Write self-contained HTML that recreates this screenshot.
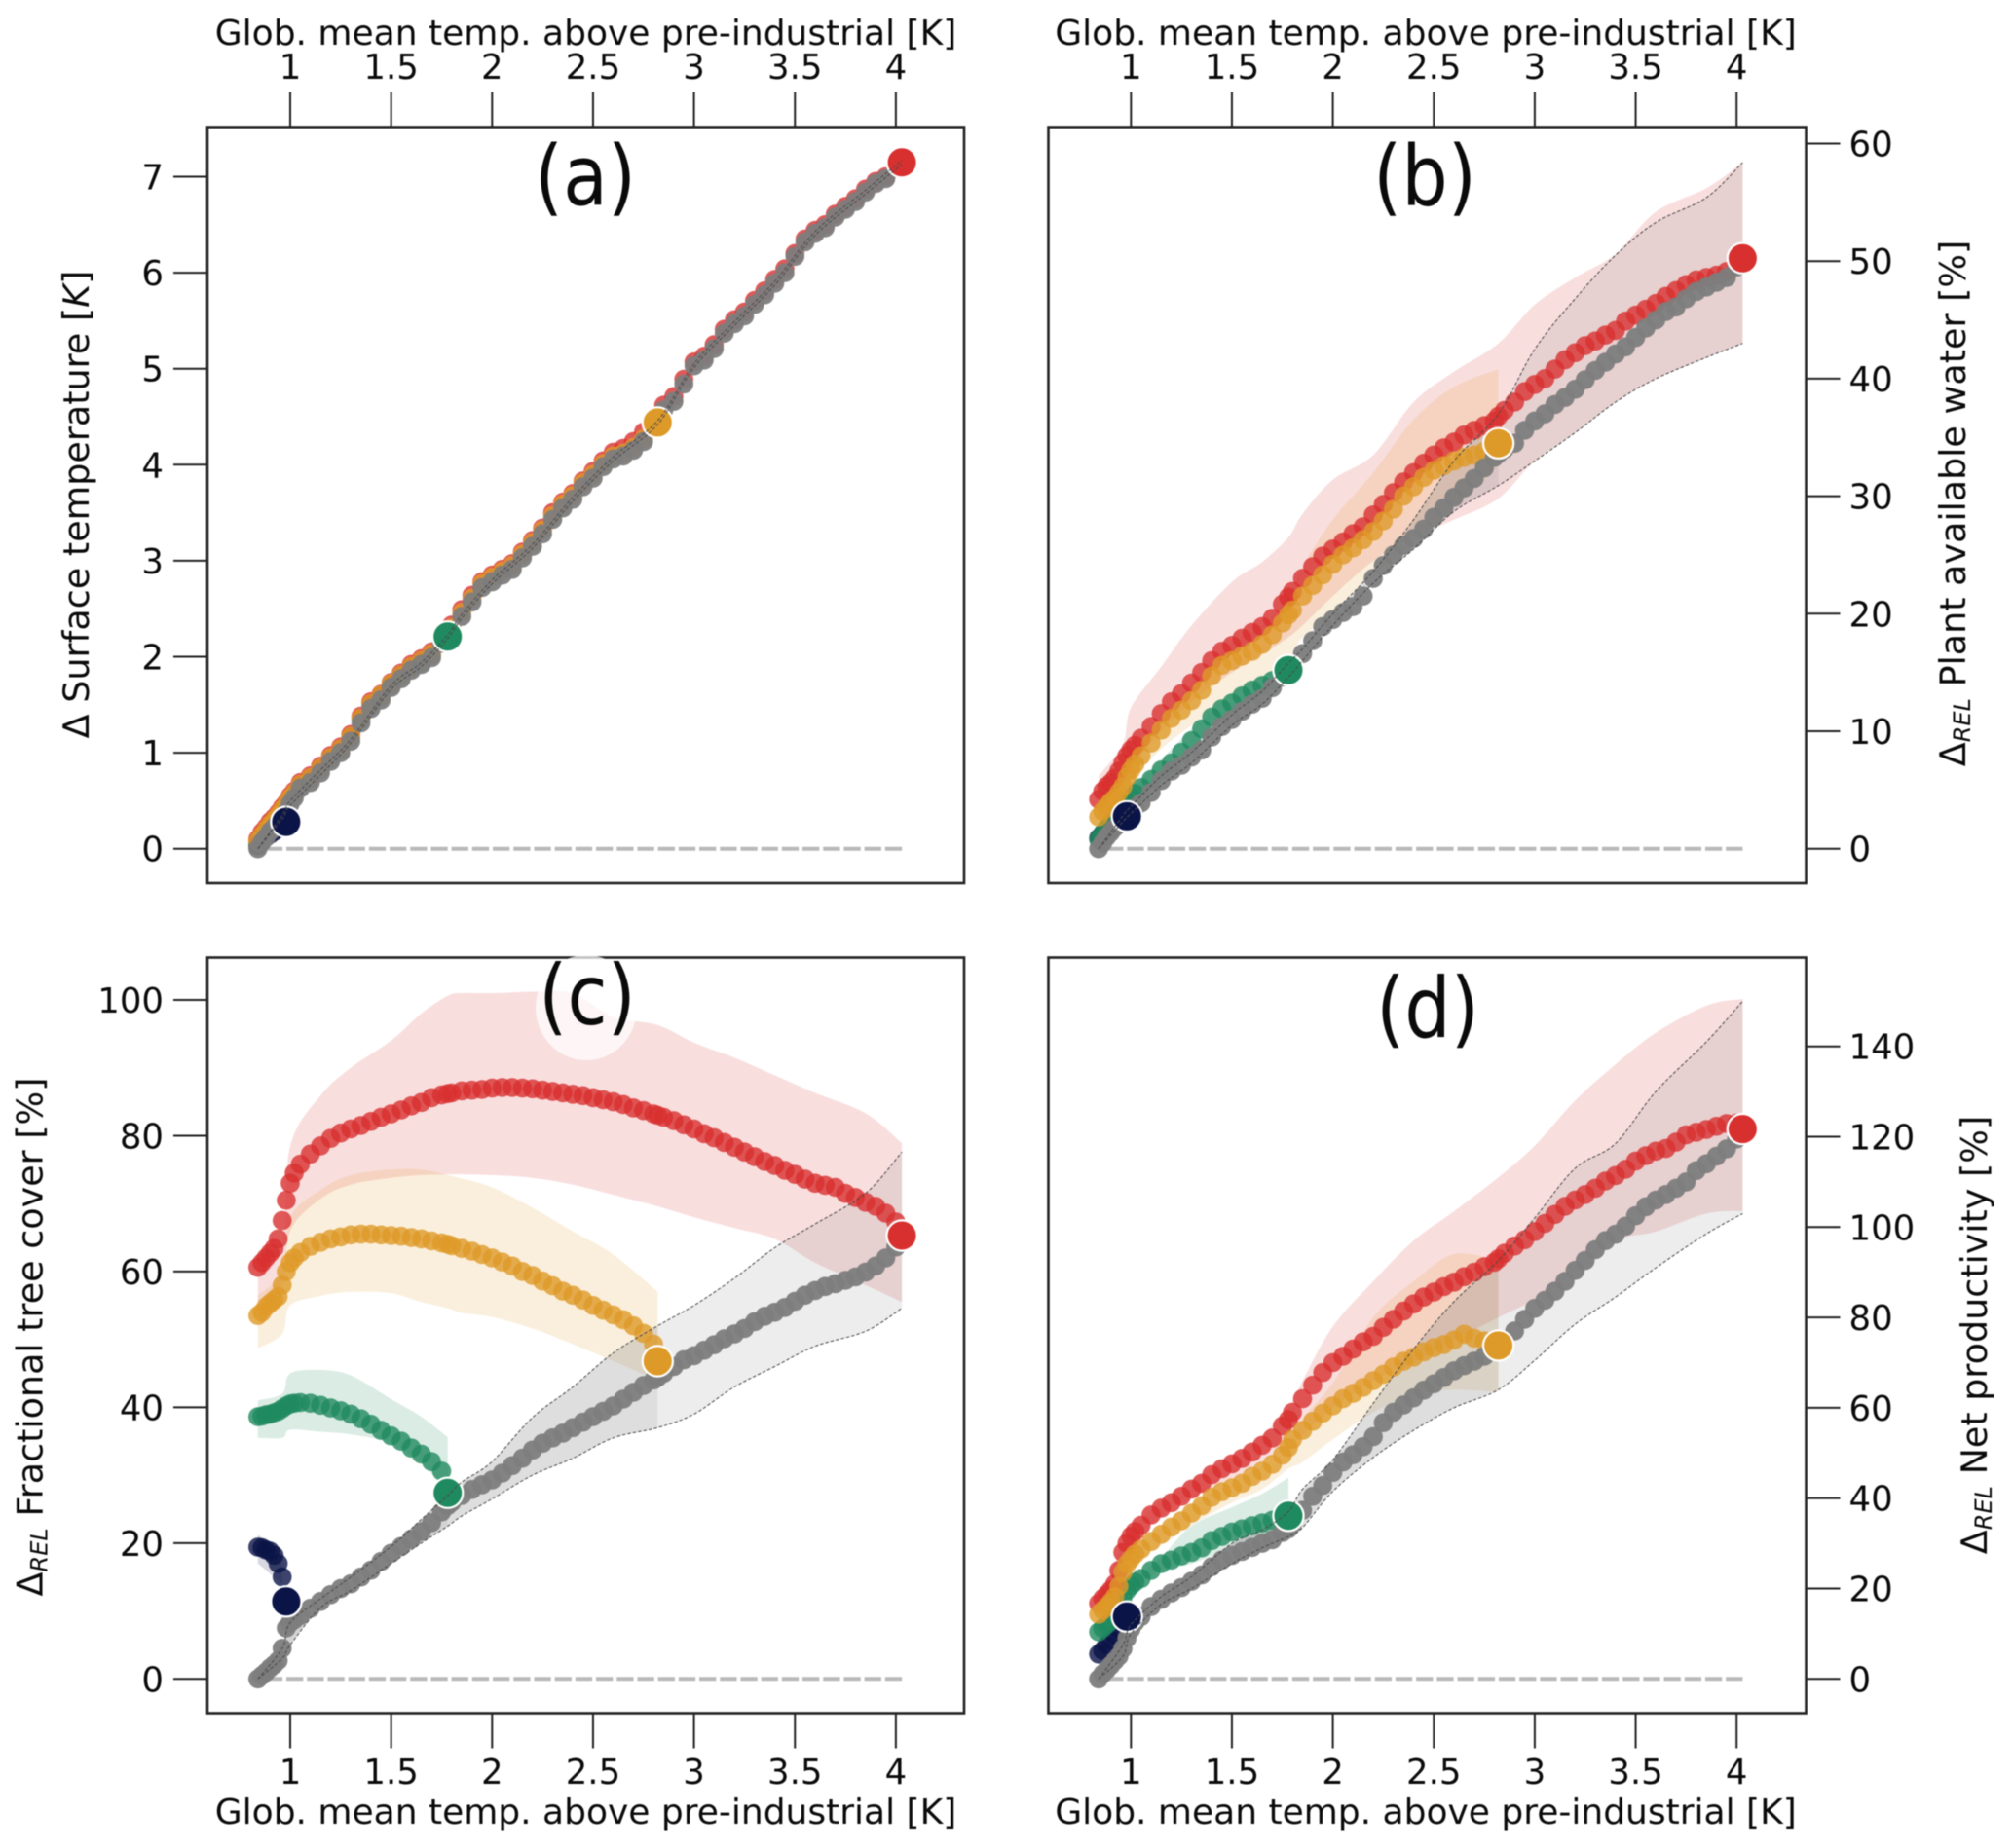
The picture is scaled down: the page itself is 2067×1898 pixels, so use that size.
<!DOCTYPE html>
<html lang="en">
<head>
<meta charset="utf-8">
<title>Vegetation response to global warming</title>
<style>
html,body{margin:0;padding:0;background:#fff;width:2067px;height:1898px;overflow:hidden}
svg{display:block;filter:blur(0.6px)}
text{font-family:"DejaVu Sans","Liberation Sans",sans-serif;fill:#0a0a0a}
.tick{font-size:35.5px}
.title{font-size:36px}
.ytitle{font-size:36.5px}
.panel{font-size:86px}
</style>
</head>
<body>
<svg id="chart" xmlns="http://www.w3.org/2000/svg" width="2067" height="1898" viewBox="0 0 2067 1898">
  <rect width="2067" height="1898" fill="#fff"/>
  <g id="marks"></g>

  <rect x="213" y="130.5" width="777" height="776.5" fill="none" stroke="#222" stroke-width="2.6"/>
  <rect x="1076.5" y="130.5" width="778" height="776.5" fill="none" stroke="#222" stroke-width="2.6"/>
  <rect x="213" y="983.5" width="777" height="776" fill="none" stroke="#222" stroke-width="2.6"/>
  <rect x="1076.5" y="983.5" width="778" height="776" fill="none" stroke="#222" stroke-width="2.6"/>

  <ellipse cx="602" cy="1035" rx="52" ry="54" fill="#fff" opacity="0.72"/>
  <text class="panel" transform="translate(601,210.5) scale(0.87,1)" text-anchor="middle">(a)</text>
  <text class="panel" transform="translate(1463,210.5) scale(0.87,1)" text-anchor="middle">(b)</text>
  <text class="panel" transform="translate(603,1052) scale(0.87,1)" text-anchor="middle">(c)</text>
  <text class="panel" transform="translate(1466,1065) scale(0.87,1)" text-anchor="middle">(d)</text>

  <text class="title" x="601.5" y="46" text-anchor="middle">Glob. mean temp. above pre-industrial [K]</text>
  <text class="title" x="1464" y="46" text-anchor="middle">Glob. mean temp. above pre-industrial [K]</text>
  <text class="title" x="601.5" y="1873" text-anchor="middle">Glob. mean temp. above pre-industrial [K]</text>
  <text class="title" x="1464" y="1873" text-anchor="middle">Glob. mean temp. above pre-industrial [K]</text>

  <text class="ytitle" transform="translate(91,518) rotate(-90)" text-anchor="middle">Δ Surface temperature [<tspan font-style="italic">K</tspan>]</text>
  <text class="ytitle" transform="translate(2018,517) rotate(-90)" text-anchor="middle">Δ<tspan font-style="italic" font-size="24" dy="5">REL</tspan><tspan dy="-5">  Plant available water [%]</tspan></text>
  <text class="ytitle" transform="translate(43.5,1373) rotate(-90)" text-anchor="middle">Δ<tspan font-style="italic" font-size="24" dy="5">REL</tspan><tspan dy="-5">  Fractional tree cover [%]</tspan></text>
  <text class="ytitle" transform="translate(2040,1371) rotate(-90)" text-anchor="middle">Δ<tspan font-style="italic" font-size="24" dy="5">REL</tspan><tspan dy="-5">  Net productivity [%]</tspan></text>
</svg>

<script>
// Shared x coordinates: global mean temperature above pre-industrial [K]
const gmt = [0.84,0.86,0.88,0.90,0.92,0.94,0.96,0.98,1.00,1.02,1.05,1.10,1.15,1.20,1.25,1.30,1.35,1.40,1.45,1.50,1.55,1.60,1.65,1.70,1.75,1.78,1.80,1.85,1.90,1.95,2.00,2.05,2.10,2.15,2.20,2.25,2.30,2.35,2.40,2.45,2.50,2.55,2.60,2.65,2.70,2.75,2.80,2.82,2.85,2.90,2.95,3.00,3.05,3.10,3.15,3.20,3.25,3.30,3.35,3.40,3.45,3.50,3.55,3.60,3.65,3.70,3.75,3.80,3.85,3.90,3.95,4.00,4.03];
const bandGmt = [0.84,0.96,1.00,1.15,1.30,1.50,1.65,1.78,1.85,2.00,2.20,2.40,2.60,2.82,3.00,3.20,3.40,3.60,3.85,4.03];

const xTickValues = [1,1.5,2,2.5,3,3.5,4];
const xTickLabels = ["1","1.5","2","2.5","3","3.5","4"];
const aTickValues = [0,1,2,3,4,5,6,7];
const bTickValues = [0,10,20,30,40,50,60];
const cTickValues = [0,20,40,60,80,100];
const dTickValues = [0,20,40,60,80,100,120,140];

// Panel (a) surface temperature
const aGray = [0,0.07,0.12,0.18,0.22,0.27,0.33,0.38,0.47,0.53,0.63,0.69,0.79,0.91,1.0,1.12,1.31,1.46,1.55,1.68,1.77,1.86,1.92,1.99,2.14,2.21,2.26,2.42,2.57,2.72,2.78,2.85,2.91,3.03,3.15,3.28,3.43,3.55,3.64,3.77,3.86,3.98,4.06,4.09,4.15,4.24,4.41,4.44,4.57,4.66,4.84,5.03,5.09,5.21,5.37,5.47,5.55,5.67,5.77,5.89,6.0,6.17,6.32,6.41,6.47,6.58,6.66,6.74,6.84,6.93,6.98,7.09,7.15];
const aRed = [0.1,0.17,0.22,0.28,0.32,0.37,0.43,0.48,0.55,0.6,0.69,0.76,0.86,0.97,1.06,1.19,1.38,1.53,1.61,1.73,1.83,1.92,1.98,2.05,2.2,2.27,2.33,2.49,2.64,2.78,2.85,2.91,2.97,3.09,3.21,3.34,3.5,3.61,3.7,3.83,3.93,4.04,4.13,4.17,4.24,4.34,4.43,4.48,4.62,4.71,4.89,5.07,5.13,5.25,5.41,5.51,5.59,5.71,5.81,5.93,6.04,6.2,6.35,6.44,6.5,6.61,6.69,6.77,6.87,6.95,7.0,7.1,7.15];
const aOrange = [0.08,0.14,0.2,0.25,0.3,0.35,0.41,0.46,0.53,0.58,0.67,0.74,0.84,0.95,1.04,1.17,1.36,1.51,1.6,1.72,1.81,1.9,1.96,2.03,2.18,2.25,2.3,2.46,2.61,2.76,2.83,2.89,2.95,3.07,3.19,3.32,3.47,3.59,3.68,3.81,3.9,4.01,4.09,4.12,4.18,4.27,4.4,4.44];
const aGreen = [0.06,0.12,0.18,0.23,0.28,0.33,0.39,0.44,0.51,0.57,0.66,0.73,0.83,0.94,1.03,1.16,1.35,1.5,1.59,1.71,1.8,1.89,1.95,2.02,2.16,2.21];
const aNavy = [0.03,0.08,0.12,0.15,0.18,0.21,0.25,0.28];
const aGrayUp = [0,0.35,0.5,0.82,1.14,1.7,1.94,2.23,2.44,2.8,3.17,3.66,4.08,4.46,5.05,5.49,5.91,6.43,6.86,7.17];
const aGrayLo = [0,0.31,0.45,0.77,1.1,1.66,1.9,2.19,2.4,2.76,3.13,3.62,4.04,4.42,5.01,5.45,5.87,6.39,6.82,7.13];

// Panel (b) plant available water
const bGray = [0,0.5,1.0,1.4,1.8,2.1,2.5,2.8,3.2,3.5,3.9,4.8,5.8,6.6,7.1,7.8,8.4,9.5,10.4,11,11.7,12.3,12.8,13.7,14.6,15.2,15.6,16.6,17.7,18.9,19.5,20.1,20.6,21.5,23,24.1,25,25.8,26.4,27.2,28.2,29,29.9,30.7,31.5,32.4,33.3,33.6,34,34.5,35.6,36.4,37,37.8,38.4,39.1,39.9,40.7,41.4,42.1,42.7,43.5,44.3,45,45.7,46.1,46.8,47.4,47.8,48.2,48.6,49.5,50];
const bRed = [4.2,4.9,5.3,5.6,6.0,6.6,7.3,7.9,8.4,8.8,9.4,10.4,11.5,12.5,13.2,14.1,15,16,16.8,17.3,17.9,18.4,18.9,19.6,20.8,21.4,21.9,23,24,24.9,25.5,26.1,26.8,27.4,28.4,29.3,30.3,31.2,32,32.8,33.5,34.1,34.6,35.2,35.6,36,36.4,36.8,37.3,38,38.9,39.5,40,40.8,41.6,42.2,42.8,43.2,43.7,44.1,44.9,45.4,45.9,46.4,47,47.5,48,48.4,48.6,48.8,49.1,49.7,50.25];
const bOrange = [2.7,3.2,3.6,4.0,4.3,4.8,5.3,6.1,6.7,7.2,7.9,9,10.1,11.1,11.8,12.6,13.5,14.7,15.6,16,16.4,16.8,17.4,18.2,19.2,19.9,20.3,21.5,22.4,23.3,24.2,25,25.6,26.3,27,27.9,28.9,30,30.8,31.6,32.2,32.6,33,33.3,33.5,33.8,34.3,34.5];
const bGreen = [0.8,1.3,1.7,2.2,2.6,3,3.5,3.9,4.3,4.7,5.2,5.9,6.7,7.3,8.2,9.2,10.2,11.2,11.9,12.4,13,13.5,13.9,14.3,14.9,15.2];
const bNavy = [0.9,1.3,1.7,2,2.2,2.4,2.6,2.76];
const bRedUp = [6.2,8.9,12,15.5,19,22.7,24.4,26.5,28.5,31.4,33.5,38,40.6,43,46.3,48.6,50.6,54.2,56.2,58.4];
const bRedLo = [4,6.5,7,10,12.5,15,16.5,18,19,21.5,24.5,26.5,28,29.8,33,35.4,38,40,41.8,43];
const bOrangeUp = [3.5,6,7,11,14,17.5,19,21.5,24,28,32,36.5,39.3,40.8];
const bOrangeLo = [2.2,4.5,5.8,8.5,10.5,13,14.5,16,18,20,23.5,26,29,32.6];
const bGreenUp = [1,4.2,5,7.6,10.2,13.2,14.7,16];
const bGreenLo = [0.6,3,3.8,6,8.4,11.6,13.2,14.6];
const bGrayUp = [0,2.8,3.6,6.2,8.2,11.4,13.4,15.8,17,20,23.6,28,33,37,42.5,46.8,50.5,53.3,55.4,58.4];
const bGrayLo = [0,2.3,3,5.4,7.3,10.5,12.3,14.6,16,19,22.6,25.5,28.7,30.9,33,35.4,38,40,41.8,43];

// Panel (c) fractional tree cover
const cGray = [0,0.5,1,1.6,2.1,2.7,4.5,7.5,8.3,8.7,9.3,10.4,11.4,12.4,13.3,14,15,16,17.3,18.5,19.5,20.6,21.7,23,24.6,25.5,26,27,27.9,28.6,29.3,30.3,31.4,32.5,33.7,34.7,35.5,36.2,37,37.8,38.6,39.4,40.2,41.2,42.2,43.2,44,44.4,45,46,47,47.6,48.4,49.2,50.1,50.8,51.6,52.6,53.4,54,54.7,55.6,56.5,57.2,57.8,58.2,58.7,59.2,59.9,60.8,62,63.6,65];
const cRed = [60.6,61.3,62,62.7,63.4,64.8,67.5,70.5,73,74.5,75.8,77.3,78.5,79.6,80.4,81,81.5,82.1,82.7,83.2,83.8,84.4,84.9,85.6,86,86.2,86.3,86.6,86.7,86.8,87,87.1,87.1,87,86.9,86.7,86.5,86.3,86.1,85.9,85.6,85.3,85,84.6,84.1,83.7,83.2,83,82.7,82.2,81.6,81,80.3,79.7,79,78.3,77.6,76.9,76.2,75.6,74.9,74.3,73.6,73,72.7,72.4,71.5,70.9,70.2,69.6,68.6,67.3,65.3];
const cOrange = [53.5,54,54.8,55.3,55.8,56.3,58,60,61.3,62,62.8,63.7,64.3,64.8,65.1,65.4,65.5,65.5,65.4,65.3,65.2,65,64.8,64.5,64.2,64,63.8,63.4,63,62.5,62,61.4,60.8,60,59.4,58.6,57.9,57.1,56.5,55.8,55,54.3,53.6,52.9,52,50.9,49.3,46.8];
const cGreen = [38.6,38.7,38.9,39,39.2,39.4,39.8,40.2,40.5,40.6,40.7,40.6,40.3,39.9,39.5,39,38.3,37.5,36.6,35.8,35,34,33.1,32,30.6,27.4];
const cNavy = [19.4,19.3,19,18.8,18.2,17,15,11.4];
const cRedUp = [61,64,78.5,85.9,90,94,98,100.6,101,101,101.2,101,97.5,96.3,93.7,91.5,88.9,86.3,83.3,78.9];
const cRedLo = [55,58,66,70.7,72.8,73.8,74.2,74.3,74.3,74.2,73.8,72.8,71.3,69.6,68,66.4,64.8,61.3,58,55.5];
const cOrangeUp = [56.5,60,68,72,74.2,75,75,74.2,73.7,72.4,69.4,65.9,62.5,57];
const cOrangeLo = [48.7,50.8,55,56.4,57,56.8,55.5,54.6,53.9,53.3,51.6,49.3,46.8,44];
const cGreenUp = [41,42,45,45.5,44.7,41.2,38.6,35.6];
const cGreenLo = [35.5,35.5,36.7,36.4,36,34.7,31.7,27.8];
const cNavyUp = [21.2,19];
const cNavyLo = [17,14];
const cGrayUp = [0,4.5,8.3,11.8,15,19.5,23.5,27,29,32,38.5,43,48,52,55,59,63.5,67,71.5,77.6];
const cGrayLo = [0,3,5,10.5,13,17,20,22.5,24,26.5,30,32.5,35.5,37,39,43,46,49,51.2,54.6];

// Panel (d) net productivity
const dGray = [0,1.1,2,3,4,5,6.7,9,11,12.5,13.8,16,17.6,19,20.2,21.6,23,24.8,26.3,27.3,28.2,29.1,30,30.8,32.4,33.2,34.3,37.3,40.4,42.8,45.7,48,49.6,51.4,53.6,56.7,59,60.6,62.2,63.9,65.3,66.7,68.2,69.3,70.3,71.4,72.6,73,75,77,79.6,82,83.8,85.8,88,90.4,92.6,95,97,98.4,100.2,102.5,104.5,106,107.2,108.6,110,112.5,114,115.7,117.3,119.5,121.5];
const dRed = [16.7,17.8,18.7,19.7,21,24,28,30,31.6,32.6,34,36.3,37.8,39,40.4,42,43.3,45.2,46.5,47.6,48.8,50.2,51.7,53.3,56,57.4,59,62,65,67.8,70,71.4,73,74.6,75.8,77.8,79.6,81.4,83,84.5,85.6,86.8,87.8,89,90,91.2,92.2,93,94.2,95.8,97.2,99,100.8,102.8,104.6,106,107.2,108.6,110.2,111.4,112.8,114.6,115.8,116.8,117.4,118.8,120.4,121,121.6,122.3,122.9,123,121.7];
const dOrange = [14.3,15.2,16,17,18.2,20.5,23.6,25.4,26.6,27.6,28.7,30.4,32,33.6,35,36.7,38.3,40.2,41.4,42.3,43.3,44.8,46,47.5,49.5,51.2,53,55,57,58.8,60.4,62,63.2,64.5,66,67.4,69,70.3,71.2,72.4,73.3,74,75,76.3,75.4,74.8,74.4,73.8];
const dGreen = [10.4,11.2,12,12.8,14,15.8,18,19.6,20.6,21.4,22.2,24,25.5,26.3,27.2,28,29,30.6,31.5,32.5,33.2,33.9,34.5,35.1,35.8,36.1];
const dNavy = [5.5,6.3,7.5,8.6,9.8,11,12.6,13.8];
const dRedUp = [17.5,30,33,39.5,44,49.5,54,60,66,78,88,97,103.5,111,118,128,136,143,149,150.5];
const dRedLo = [16,26,30,36,40,44,48,51,54,60,66,70,75,80,84,90,97,99,103,103.6];
const dOrangeUp = [15,25,28,34,38.5,44,47,51.5,57.5,65.5,80,88,94,92.6];
const dOrangeLo = [13.5,22,25,29.5,34,39,42,46.5,48,53,59,63,64,63.5];
const dGreenUp = [10.8,19,21.5,27,33.9,38,41,44.5];
const dGreenLo = [10,17.5,19.5,24,25.5,29,30.5,33];
const dGrayUp = [0,7.5,12,18.2,22.6,30,33,37,42,48.5,61,73,83.5,92.6,102,113,118.5,130,141,150];
const dGrayLo = [0,5,10,16.5,20,25.5,29,31.5,33.5,41.5,49,55,60,64,70.5,78.5,84.5,91,98.5,103];

const colors = {red:"#d8302f",orange:"#de9a28",green:"#1f8a5f",navy:"#0b1447",gray:"#7d7d7d"};
const NS = "http://www.w3.org/2000/svg";
const root = document.getElementById("marks");

function xAxis(panel, v){ return panel.x1 + (v - 1) * 207.3; }
function yAxis(panel, v){ return panel.y0 - v * panel.pxPerUnit; }

function svgEl(tag, parent){
  const el = document.createElementNS(NS, tag);
  parent.appendChild(el);
  return el;
}

// Smooth curve segments through screen points (rendering only; data stays as read)
function curveSegments(pts){
  let d = "";
  for (let i = 0; i < pts.length - 1; i++){
    const p0 = pts[Math.max(i - 1, 0)], p1 = pts[i], p2 = pts[i + 1], p3 = pts[Math.min(i + 2, pts.length - 1)];
    const c1x = p1[0] + (p2[0] - p0[0]) / 6, c1y = p1[1] + (p2[1] - p0[1]) / 6;
    const c2x = p2[0] - (p3[0] - p1[0]) / 6, c2y = p2[1] - (p3[1] - p1[1]) / 6;
    d += "C" + c1x.toFixed(1) + " " + c1y.toFixed(1) + " " + c2x.toFixed(1) + " " + c2y.toFixed(1) + " " + p2[0].toFixed(1) + " " + p2[1].toFixed(1);
  }
  return d;
}

function screenPoints(panel, values, count){
  const pts = [];
  for (let i = 0; i < count; i++) pts.push([xAxis(panel, bandGmt[i]), yAxis(panel, values[i])]);
  return pts;
}

function drawBand(panel, key, up, lo, g, count, opacity){
  const n = count || Math.min(up.length, lo.length);
  const top = screenPoints(panel, up, n);
  const bottom = screenPoints(panel, lo, n).reverse();
  const area = svgEl("path", g);
  const d = "M" + top[0][0].toFixed(1) + " " + top[0][1].toFixed(1) + curveSegments(top) +
    "L" + bottom[0][0].toFixed(1) + " " + bottom[0][1].toFixed(1) + curveSegments(bottom) + "Z";
  area.setAttribute("d", d);
  area.setAttribute("fill", colors[key]);
  area.setAttribute("fill-opacity", opacity);
  
  
}

function drawDots(panel, key, values, g){
  values.forEach(function(v, i){
    const c = svgEl("circle", g);
    c.setAttribute("cx", xAxis(panel, gmt[i]).toFixed(1));
    c.setAttribute("cy", yAxis(panel, v).toFixed(1));
    c.setAttribute("r", "9.8");
    c.setAttribute("fill", colors[key]);
    c.setAttribute("fill-opacity", key === "gray" ? "0.95" : "0.8");
    
    
  });
}

function drawPanel(panel){
  const g = svgEl("g", root);
  
  

  // Bands
  ["red","orange","green","navy"].forEach(function(key){
    if (panel.bands[key]) drawBand(panel, key, panel.bands[key][0], panel.bands[key][1], g, 0, "0.16");
  });
  if (panel.id !== "a"){
    drawBand(panel, "gray", panel.bands.gray[0], panel.bands.gray[1], g, 0, "0.14");
    drawBand(panel, "gray", panel.bands.gray[0], panel.bands.gray[1], g, 14, "0.13");
    drawBand(panel, "gray", panel.bands.gray[0], panel.bands.gray[1], g, 8, "0.1");
  }

  // Zero reference line
  const zero = svgEl("line", g);
  zero.setAttribute("x1", xAxis(panel, gmt[0]) + 8);
  zero.setAttribute("x2", xAxis(panel, gmt[gmt.length - 1]));
  zero.setAttribute("y1", yAxis(panel, 0));
  zero.setAttribute("y2", yAxis(panel, 0));
  zero.setAttribute("stroke", "#b9b9b9");
  zero.setAttribute("stroke-width", "4");
  zero.setAttribute("stroke-dasharray", "17.3 3.9");
  
  

  // Small dots
  ["navy","green","red","orange","gray"].forEach(function(key){
    drawDots(panel, key, panel.series[key], g);
  });

  // End markers
  ["navy","green","orange","red"].forEach(function(key){
    const values = panel.series[key];
    const c = svgEl("circle", g);
    c.setAttribute("cx", xAxis(panel, gmt[values.length - 1]).toFixed(1));
    c.setAttribute("cy", yAxis(panel, values[values.length - 1]).toFixed(1));
    c.setAttribute("r", "15.6");
    c.setAttribute("fill", colors[key]);
    c.setAttribute("stroke", "#fff");
    c.setAttribute("stroke-width", "2.2");
    
    
  });

  // Gray band dashed outlines
  [0, 1].forEach(function(side){
    const pts = screenPoints(panel, panel.bands.gray[side], bandGmt.length);
    const edge = svgEl("path", g);
    edge.setAttribute("d", "M" + pts[0][0].toFixed(1) + " " + pts[0][1].toFixed(1) + curveSegments(pts));
    edge.setAttribute("fill", "none");
    edge.setAttribute("stroke", "#4a4a4a");
    edge.setAttribute("stroke-width", "1");
    edge.setAttribute("stroke-dasharray", "3.5 2");
    
    
  });

  // X ticks and labels
  xTickValues.forEach(function(v, i){
    const px = xAxis(panel, v);
    const tick = svgEl("line", g);
    tick.setAttribute("x1", px);
    tick.setAttribute("x2", px);
    tick.setAttribute("y1", panel.top ? panel.frameTop : panel.frameBottom);
    tick.setAttribute("y2", panel.top ? panel.frameTop - 36 : panel.frameBottom + 36);
    tick.setAttribute("stroke", "#222");
    tick.setAttribute("stroke-width", "2");
    
    
    const label = svgEl("text", g);
    label.setAttribute("class", "tick");
    label.setAttribute("x", px);
    label.setAttribute("y", panel.top ? 81 : 1832);
    label.setAttribute("text-anchor", "middle");
    
    
    label.textContent = xTickLabels[i];
  });

  // Y ticks and labels
  panel.yTicks.forEach(function(v){
    const py = yAxis(panel, v);
    const tick = svgEl("line", g);
    tick.setAttribute("x1", panel.right ? panel.frameRight : panel.frameLeft);
    tick.setAttribute("x2", panel.right ? panel.frameRight + 35 : panel.frameLeft - 35);
    tick.setAttribute("y1", py);
    tick.setAttribute("y2", py);
    tick.setAttribute("stroke", "#222");
    tick.setAttribute("stroke-width", "2");
    
    
    const label = svgEl("text", g);
    label.setAttribute("class", "tick");
    label.setAttribute("x", panel.right ? panel.frameRight + 44 : panel.frameLeft - 45);
    label.setAttribute("y", py + 13);
    label.setAttribute("text-anchor", panel.right ? "start" : "end");
    
    
    label.textContent = String(v);
  });
}

const panels = [
  {id:"a",x1:298,y0:871.7,pxPerUnit:98.6,top:true,right:false,frameTop:130.5,frameBottom:907,frameLeft:213,frameRight:990,yTicks:aTickValues,
   series:{navy:aNavy,green:aGreen,red:aRed,orange:aOrange,gray:aGray},
   bands:{gray:[aGrayUp,aGrayLo]}},
  {id:"b",x1:1161.3,y0:871.7,pxPerUnit:12.07,top:true,right:true,frameTop:130.5,frameBottom:907,frameLeft:1076.5,frameRight:1854.5,yTicks:bTickValues,
   series:{navy:bNavy,green:bGreen,red:bRed,orange:bOrange,gray:bGray},
   bands:{red:[bRedUp,bRedLo],orange:[bOrangeUp,bOrangeLo],green:[bGreenUp,bGreenLo],gray:[bGrayUp,bGrayLo]}},
  {id:"c",x1:298,y0:1724.3,pxPerUnit:6.973,top:false,right:false,frameTop:983.5,frameBottom:1759.5,frameLeft:213,frameRight:990,yTicks:cTickValues,
   series:{navy:cNavy,green:cGreen,red:cRed,orange:cOrange,gray:cGray},
   bands:{red:[cRedUp,cRedLo],orange:[cOrangeUp,cOrangeLo],green:[cGreenUp,cGreenLo],navy:[cNavyUp,cNavyLo],gray:[cGrayUp,cGrayLo]}},
  {id:"d",x1:1161.3,y0:1724.3,pxPerUnit:4.64,top:false,right:true,frameTop:983.5,frameBottom:1759.5,frameLeft:1076.5,frameRight:1854.5,yTicks:dTickValues,
   series:{navy:dNavy,green:dGreen,red:dRed,orange:dOrange,gray:dGray},
   bands:{red:[dRedUp,dRedLo],orange:[dOrangeUp,dOrangeLo],green:[dGreenUp,dGreenLo],gray:[dGrayUp,dGrayLo]}}
];
panels.forEach(drawPanel);
</script>
</body>
</html>
